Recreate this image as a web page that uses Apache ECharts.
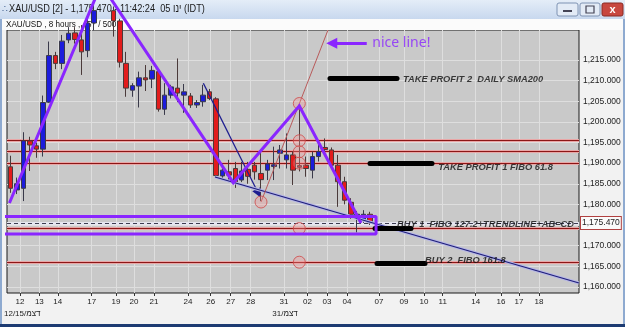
<!DOCTYPE html>
<html><head><meta charset="utf-8">
<script src="https://cdn.jsdelivr.net/npm/echarts@6/dist/echarts.min.js"></script>
<style>html,body{margin:0;padding:0;background:#f2f2f2}#c{width:625px;height:327px}</style>
</head><body><div id="c"></div><script>
// ---- candle data (8-hour bars, index = bar number) ----
const opens = [
 1189.1,1183.5,1183.9,1195.4,1194.2,1193.4,1204.8,1216.1,1214.2,1219.9,
 1221.6,1219.9,1217.3,1224.0,1227.0,1230.0,1227.0,1224.5,1214.2,1207.7,
 1208.7,1210.7,1210.4,1212.2,1203.1,1206.5,1208.2,1206.5,1206.3,1204.1,
 1204.9,1207.3,1205.6,1186.9,1187.9,1188.7,1185.9,1188.5,1189.5,1187.5,
 1188.3,1189.2,1192.4,1190.8,1192.0,1189.4,1189.5,1188.3,1191.6,1193.8,
 1193.2,1189.5,1185.5,1180.5,1176.8,1176.2,1177.6];
const closes = [
 1183.9,1185.0,1195.4,1194.4,1193.4,1204.7,1216.1,1214.2,1219.6,1221.5,
 1220.0,1217.0,1224.0,1227.0,1230.0,1227.0,1224.5,1214.5,1208.2,1208.8,
 1210.7,1210.2,1212.5,1203.1,1206.5,1208.5,1207.0,1207.3,1204.1,1204.7,
 1206.5,1205.7,1187.0,1188.3,1187.1,1185.2,1188.1,1186.8,1187.9,1186.0,
 1189.8,1189.6,1193.2,1192.0,1188.3,1189.0,1188.7,1191.6,1192.8,1193.3,
 1189.5,1185.5,1181.0,1177.6,1177.6,1177.6,1175.47];
const lows = [
 1182.8,1182.5,1180.8,1188.1,1191.3,1191.6,1204.6,1212.8,1212.8,1219.1,
 1219.0,1211.4,1215.7,1222.2,1225.0,1225.0,1220.7,1213.2,1206.1,1206.1,
 1203.5,1207.5,1208.2,1202.5,1201.7,1205.7,1204.8,1202.2,1203.4,1203.4,
 1203.7,1205.3,1186.5,1185.9,1185.4,1184.0,1185.4,1185.0,1186.0,1180.8,
 1185.9,1185.9,1188.7,1188.7,1184.7,1188.0,1186.7,1186.3,1190.4,1192.0,
 1189.0,1179.4,1180.0,1176.5,1173.2,1175.5,1175.0];
const highs = [
 1191.8,1186.5,1197.5,1196.4,1195.0,1206.4,1219.5,1217.0,1221.1,1223.0,
 1223.0,1223.5,1225.5,1229.0,1232.0,1231.0,1228.0,1225.0,1217.0,1209.4,
 1212.2,1213.8,1213.6,1212.8,1209.4,1209.0,1215.4,1209.2,1207.0,1205.3,
 1209.0,1208.0,1206.0,1190.0,1190.8,1190.3,1190.3,1190.3,1190.3,1192.8,
 1190.8,1194.0,1194.4,1197.2,1192.8,1204.0,1191.6,1192.8,1195.6,1196.0,
 1193.8,1192.0,1186.7,1181.5,1178.4,1178.6,1178.2];

// ---- axis ticks ----
const dayTickPos    = [1.45,4.46,7.33,12.62,16.41,19.22,22.33,27.63,31.17,34.29,37.41,42.60,46.26,49.30,52.42,57.40,61.30,64.42,67.33,72.47,76.42,79.22,82.33];
const dayTickLabels = ['12','13','14','17','19','20','21','24','26','27','28','31','02','03','04','07','09','10','11','14','16','17','18'];
const priceTicks = [1160,1165,1170,1175,1180,1185,1190,1195,1200,1205,1210,1215];
const lastPrice = 1175.47;

// ---- drawn annotations (bar index, price) ----
const fiboLevels = [1195.44,1192.77,1190.0,1174.14,1165.97];
const purpleZigzag = [[-0.20,1180.33],[13.33,1230.55],[15.32,1230.55],[34.69,1185.26],[44.98,1203.86],[54.6,1175.48]];
const purpleBox = [[-1.31,1177.06],[56.94,1177.06],[56.94,1172.8],[-1.31,1172.8],[-1.31,1177.06]];
const purpleArrow = [[55.49,1219.07],[50.03,1219.07]];
const trendLine = [[31.84,1186.64],[88.57,1160.92]];
const abArrow = [[30.02,1209.37],[38.59,1182.68]];
const fiboLine = [[39.01,1180.57],[49.45,1222.3]];
const fiboCircles = [[44.98,1204.47],[44.98,1195.44],[44.98,1192.77],[44.98,1190.0],[44.98,1174.14],[44.98,1165.97],[39.01,1180.57]];
const targetBars = [[1210.66,49.76,60.21],[1189.9,56.0,65.66],[1174.3,56.78,62.39],[1165.77,57.09,64.57]];
const targetTexts = [[61.14,1210.3,'TAKE PROFIT 2  DAILY SMA200'],[66.64,1189.0,'TAKE PROFIT 1 FIBO 61.8'],[60.21,1175.2,'BUY 1  FIBO 127.2+TRENDLINE+AB=CD'],[64.57,1166.5,'BUY 2  FIBO 161.8']];
const noteText = [56.36,1219.15,'nice line!'];

const PURPLE = '#8a26ff';
const FONT = 'Liberation Sans, Arial, sans-serif';
const fmtPrice = v => Number(v).toLocaleString('en-US',{minimumFractionDigits:3,maximumFractionDigits:3});
const labelFor = v => { let best=0,bd=1e9; dayTickPos.forEach((p,i)=>{const d=Math.abs(p-v); if(d<bd){bd=d;best=i;}}); return dayTickLabels[best]; };

const candleData = opens.map((o,i)=>[i,o,closes[i],lows[i],highs[i]]);

const chart = echarts.init(document.getElementById('c'));
chart.setOption({
  backgroundColor:'#f2f2f2',
  animation:false,
  grid:{left:7,right:46,top:30,bottom:34,show:true,backgroundColor:'#c9c9c9',borderColor:'#1a1a1a',borderWidth:1},
  xAxis:{type:'value',min:-0.58,max:88.57,axisLine:{show:false},splitLine:{show:false},
    axisTick:{show:true,customValues:dayTickPos,length:3,lineStyle:{color:'#333'}},
    axisLabel:{customValues:dayTickPos,formatter:v=>labelFor(v),fontSize:8,color:'#222',margin:5,fontFamily:FONT}},
  yAxis:{type:'value',position:'right',min:1158.5,max:1222.3,axisLine:{show:false},splitLine:{show:false},
    axisTick:{show:true,customValues:priceTicks,length:3,lineStyle:{color:'#333'}},
    axisLabel:{customValues:priceTicks,formatter:v=>fmtPrice(v),fontSize:8.5,color:'#222',margin:4,fontFamily:FONT}},
  graphic:[
    {type:'rect',z:1,shape:{x:0,y:0,width:625,height:19},style:{fill:new echarts.graphic.LinearGradient(0,0,0,1,[{offset:0,color:'#e4edf8'},{offset:1,color:'#c8d8ee'}])}},
    {type:'text',z:1,style:{x:2,y:5,text:'∴',fontSize:9,fill:'#3a5a8a'}},
    {type:'text',z:1,x:9,y:3,scaleX:0.8,style:{x:0,y:0,text:'XAU/USD [2] - 1,175.470 - 11:42:24  05 ינו (IDT)',fontSize:11.5,fill:'#1a1a1a',fontFamily:FONT}},
    {type:'rect',z:1,shape:{x:557,y:3,width:21,height:13,r:2},style:{fill:'#e3ebf6',stroke:'#7f93b3'}},
    {type:'rect',z:1,shape:{x:563,y:10,width:9,height:2},style:{fill:'#445'}},
    {type:'rect',z:1,shape:{x:580,y:3,width:20,height:13,r:2},style:{fill:'#e3ebf6',stroke:'#7f93b3'}},
    {type:'rect',z:1,shape:{x:586,y:6,width:8,height:7},style:{fill:'none',stroke:'#445',lineWidth:1.2}},
    {type:'rect',z:1,shape:{x:602,y:3,width:21,height:13,r:2},style:{fill:'#c8473f',stroke:'#8a2a24'}},
    {type:'text',z:1,style:{x:612.5,y:9.5,text:'x',fontSize:11,fontWeight:'bold',fill:'#fff',align:'center',verticalAlign:'middle',fontFamily:FONT}},
    {type:'rect',z:1,shape:{x:2,y:19,width:621,height:11},style:{fill:'#fbfbfb'}},
    {type:'text',z:1,x:6,y:20.5,scaleX:0.9,style:{x:0,y:0,text:'XAU/USD , 8 hours , 457 / 500',fontSize:9,fill:'#111',fontFamily:FONT}},
    {type:'rect',z:1,shape:{x:0,y:19,width:2,height:308},style:{fill:'#8eaad0'}},
    {type:'rect',z:1,shape:{x:623,y:19,width:2,height:308},style:{fill:'#8eaad0'}},
    {type:'rect',z:1,shape:{x:0,y:324,width:625,height:3},style:{fill:'#1d3b72'}},
    {type:'text',z:1,style:{x:4,y:314,text:'12/15/דצמ',fontSize:8,fill:'#222',verticalAlign:'middle',fontFamily:FONT}},
    {type:'text',z:1,style:{x:285,y:314,text:'31/דצמ',fontSize:8,fill:'#222',align:'center',verticalAlign:'middle',fontFamily:FONT}}
  ],
  series:[
    {type:'line',data:[],silent:true,markLine:{silent:true,z:1,symbol:'none',animation:false,label:{show:false},
      lineStyle:{color:'#dedede',width:1,type:'solid'},
      data:[...dayTickPos.map(v=>({xAxis:v})),...priceTicks.map(v=>({yAxis:v}))]}},
    {type:'line',data:[],silent:true,markLine:{silent:true,z:1,symbol:'none',animation:false,label:{show:false},
      lineStyle:{color:'#e9a6a6',width:3,type:'solid'},data:fiboLevels.map(v=>({yAxis:v}))}},
    {type:'line',data:[],silent:true,markLine:{silent:true,z:1,symbol:'none',animation:false,label:{show:false},
      lineStyle:{color:'#8c1616',width:1,type:'solid'},data:fiboLevels.map(v=>({yAxis:v}))}},
    {type:'line',data:[],silent:true,markLine:{silent:true,z:1,symbol:'none',animation:false,label:{show:false},
      lineStyle:{color:'#e6e6f0',width:3,type:'solid'},data:[{yAxis:lastPrice}]}},
    {type:'line',data:[],silent:true,markLine:{silent:true,z:1,symbol:'none',animation:false,
      label:{show:true,position:'end',distance:2,formatter:()=>fmtPrice(lastPrice),fontSize:8.5,color:'#222',fontFamily:FONT,
        backgroundColor:'#fafafa',borderColor:'#b04040',borderWidth:1,padding:[2,1,1,1]},
      lineStyle:{color:'#3c3c50',width:1,type:[4,3]},data:[{yAxis:lastPrice}]}},
    {type:'candlestick',z:3,barWidth:5,clip:true,encode:{x:0,y:[1,2,3,4]},data:candleData,
      itemStyle:{color:'#1c1cdc',color0:'#e21c1c',borderColor:'#3a3a4a',borderColor0:'#4a3a3a',borderWidth:1}},
    {type:'line',z:4,data:trendLine,symbol:'none',lineStyle:{color:'#b6b6e6',width:3}},
    {type:'line',z:4,data:trendLine,symbol:'none',lineStyle:{color:'#1e1e78',width:1.2}},
    {type:'line',z:4,data:fiboLine,symbol:'none',lineStyle:{color:'#b85a5a',width:1}},
    {type:'line',z:4,data:[],markLine:{silent:true,z:4,symbol:['none','triangle'],symbolSize:9,animation:false,label:{show:false},
      lineStyle:{color:'#1e1e90',width:1.3,type:'solid'},data:[[{coord:abArrow[0]},{coord:abArrow[1]}]]}},
    {type:'scatter',z:5,data:fiboCircles,symbolSize:12,itemStyle:{color:'rgba(245,150,150,0.4)',borderColor:'#d04848',borderWidth:1}},
    {type:'line',z:5,data:[],markLine:{silent:true,z:5,symbol:'none',animation:false,label:{show:false},
      lineStyle:{color:'#000',width:5,type:'solid',cap:'round'},
      data:targetBars.map(b=>[{coord:[b[1],b[0]]},{coord:[b[2],b[0]]}])}},
    {type:'scatter',z:6,symbolSize:0,data:targetTexts.map(t=>({value:[t[0],t[1]],name:t[2]})),
      label:{show:true,position:'right',distance:0,formatter:p=>p.name,fontSize:9.3,fontWeight:'bold',fontStyle:'italic',color:'#111',fontFamily:FONT}},
    {type:'scatter',z:10,symbolSize:0,data:[{value:[noteText[0],noteText[1]],name:noteText[2]}],
      label:{show:true,position:'right',distance:0,formatter:p=>p.name,fontSize:14,color:PURPLE,fontFamily:'Noto Sans, sans-serif'}},
    {type:'line',z:10,clip:false,data:purpleZigzag,symbol:'none',lineStyle:{color:PURPLE,width:3,join:'miter'}},
    {type:'line',z:10,clip:false,data:purpleBox,symbol:'none',lineStyle:{color:PURPLE,width:3}},
    {type:'line',z:10,data:[],markLine:{silent:true,z:10,symbol:['none','triangle'],symbolSize:11,animation:false,label:{show:false},
      lineStyle:{color:PURPLE,width:3,type:'solid'},data:[[{coord:purpleArrow[0]},{coord:purpleArrow[1]}]]}}
  ]
});
</script></body></html>
